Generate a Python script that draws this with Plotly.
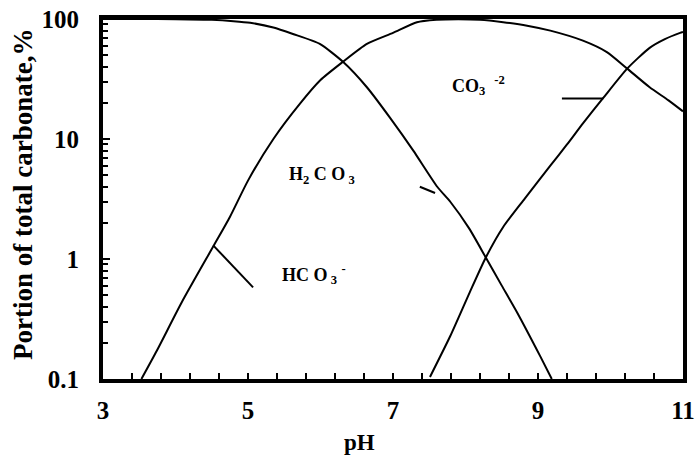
import numpy as np
import plotly.graph_objects as go

# values (pH, % of total carbonate)
h2co3_ph = [3.0, 3.5, 4.0, 4.5, 4.8, 5.03, 5.35, 5.62, 5.99, 6.31, 6.64, 6.96, 7.28, 7.61, 7.79, 8.05, 8.28, 8.5, 8.71, 9.03, 9.19]
h2co3_pct = [100, 100, 99.6, 98.5, 96, 93, 85, 75, 62, 44, 27, 15, 8, 4, 3.0, 1.8, 1.03, 0.6, 0.36, 0.155, 0.1]

hco3_ph = [3.53, 3.74, 4.09, 4.52, 4.75, 5.0, 5.35, 5.72, 6.0, 6.31, 6.64, 7.0, 7.33, 7.6, 7.9, 8.2, 8.52, 8.85, 9.17, 9.62, 9.95, 10.23, 10.54, 10.8, 11.0]
hco3_pct = [0.1, 0.171, 0.44, 1.27, 2.24, 4.5, 10, 19.8, 31, 44, 62, 76.6, 94, 98.5, 99.5, 98.5, 94, 88, 80, 66, 53, 38.6, 27, 21, 17]

co3_ph = [7.51, 7.79, 8.06, 8.28, 8.52, 8.82, 9.17, 9.4, 9.62, 9.9, 10.23, 10.54, 10.75, 10.96, 11.0]
co3_pct = [0.104, 0.228, 0.53, 1.03, 1.85, 3.2, 6.0, 9.0, 13.5, 22, 38.6, 57.5, 68, 76.6, 78]

# label pointer segments
hco3_ptr_ph = [4.52, 5.07]
hco3_ptr_pct = [1.3, 0.58]
h2co3_ptr_ph = [7.37, 7.58]
h2co3_ptr_pct = [4.0, 3.55]
co3_ptr_ph = [9.33, 9.9]
co3_ptr_pct = [21.7, 21.7]

labels = ["H<sub>2</sub> C O<sub> 3</sub>", "HC O<sub> 3</sub> <sup>-</sup>", "CO<sub>3</sub>  <sup>-2</sup>"]
label_ph = [5.54, 5.44, 7.79]
label_pct = [5.0, 0.74, 27.9]

minor_y = [v * 10.0 ** e for e in (-1, 0, 1) for v in range(2, 10)]

FONT = "Liberation Serif, Times New Roman, serif"

fig = go.Figure()
for xs, ys in [
    (h2co3_ph, h2co3_pct),
    (hco3_ph, hco3_pct),
    (co3_ph, co3_pct),
    (hco3_ptr_ph, hco3_ptr_pct),
    (h2co3_ptr_ph, h2co3_ptr_pct),
    (co3_ptr_ph, co3_ptr_pct),
]:
    fig.add_scatter(x=xs, y=ys, mode="lines", line={"color": "black", "width": 2, "shape": "spline", "smoothing": 0.6},
                    showlegend=False, hoverinfo="skip")

for text, px, py in zip(labels, label_ph, label_pct):
    fig.add_annotation(x=px, y=np.log10(py), text=text, showarrow=False, xanchor="left",
                       font={"family": FONT, "size": 18, "color": "black", "weight": "bold"})

# axis titles (the x title sits left of centre in the reference)
fig.add_annotation(text="pH", xref="paper", yref="paper", x=0.443, y=-0.175,
                   xanchor="center", yanchor="middle", showarrow=False,
                   font={"family": FONT, "size": 23, "color": "black", "weight": "bold"})
fig.add_annotation(text="Portion of total carbonate,%", xref="paper", yref="paper", x=-0.138, y=0.514,
                   xanchor="center", yanchor="middle", textangle=-90, showarrow=False,
                   font={"family": FONT, "size": 27, "color": "black", "weight": "bold"})

fig.update_layout(
    width=695,
    height=460,
    margin={"l": 103, "r": 12, "t": 19, "b": 81, "autoexpand": False},
    paper_bgcolor="white",
    plot_bgcolor="white",
    font={"family": FONT, "color": "black", "weight": "bold"},
)
fig.update_xaxes(
    range=[3, 11],
    tickvals=[3, 5, 7, 9, 11],
    ticks="inside", ticklen=6, tickwidth=2, tickcolor="black",
    minor={"ticks": "inside", "tick0": 3, "dtick": 0.4, "ticklen": 6, "tickwidth": 2, "tickcolor": "black"},
    showline=True, linewidth=4, linecolor="black", mirror=True,
    showgrid=False, zeroline=False, automargin=False,
    ticklabelstandoff=6, ticklabeloverflow="allow",
    tickfont={"size": 25, "family": FONT, "weight": "bold"},
)
fig.update_yaxes(
    type="log",
    range=[-1, 2],
    tickvals=[0.1, 1, 10, 100],
    ticktext=["0.1", "1", "10", "100"],
    ticks="inside", ticklen=7, tickwidth=2, tickcolor="black",
    minor={"ticks": "inside", "tickvals": minor_y, "ticklen": 5, "tickwidth": 1.5, "tickcolor": "black"},
    showline=True, linewidth=4, linecolor="black", mirror=True,
    showgrid=False, zeroline=False, automargin=False,
    ticklabelstandoff=15, ticklabeloverflow="allow",
    tickfont={"size": 25, "family": FONT, "weight": "bold"},
)

# drop the default page margin so the figure fills the window exactly
fig.write_html("out.html", config={"displayModeBar": False},
               post_script="document.body.style.margin = '0';")
